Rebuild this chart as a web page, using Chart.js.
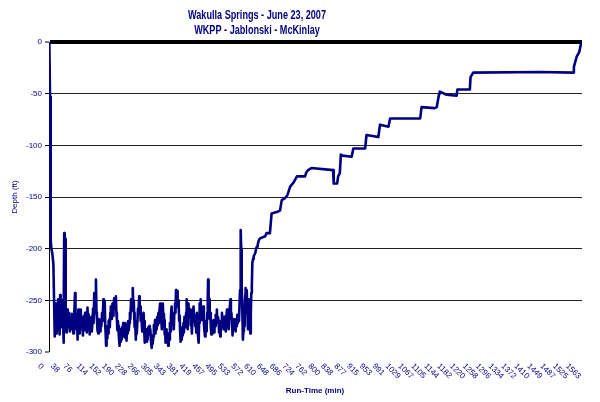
<!DOCTYPE html>
<html>
<head>
<meta charset="utf-8">
<script src="https://cdn.jsdelivr.net/npm/chart.js@4.4.1/dist/chart.umd.min.js"></script>
<style>
  html, body { margin: 0; padding: 0; background: #fff; }
</style>
</head>
<body>
<canvas id="depthChart" width="600" height="402"></canvas>
<script>
const titleLines = ['Wakulla Springs - June 23, 2007', 'WKPP - Jablonski - McKinlay'];
const xAxisTitle = 'Run-Time (min)';
const yAxisTitle = 'Depth (ft)';

// run time (min) and depth (ft)
const runTime = [
  1, 3, 5, 5, 7, 10, 13, 17,
  18.5, 20, 21.5, 23, 24.5, 26, 27, 28.5, 30, 31.5, 33, 34.5, 36, 37, 38.5, 40, 41.5, 43, 44, 45, 46.5, 48, 49, 50,
  51.5, 53, 54, 55.5, 57, 59, 60.5, 62, 64, 65.5, 67, 69, 70.5, 72, 74, 75.5, 77, 78.5, 80, 81.5, 83, 84, 85.5, 87,
  88.5, 90, 91, 92.5, 94, 95.5, 97, 99, 100.5, 102, 104, 105.5, 107, 109, 110.5, 112, 114, 115.5, 117, 119, 120.5,
  122, 124, 125.5, 127, 129, 130.5, 132, 134, 135.5, 137, 139, 140.5, 142, 143.5, 146, 147.5, 149, 151, 152.5, 154,
  155, 157, 159, 161, 162.5, 164, 165, 166.5, 168, 169, 170.5, 172, 173, 175, 176.5, 178, 180, 181.5, 183, 184.5,
  186, 188, 189.5, 191, 193, 194.5, 196, 198, 199.5, 201, 202.5, 204, 205, 207, 209, 210.5, 212, 213, 215, 216.5,
  218, 219.5, 221, 223, 224.5, 226, 228, 229.5, 231, 233, 234.5, 236, 238, 239.5, 241, 243, 244.5, 246, 248, 249.5,
  251, 252, 253.5, 255, 257, 258.5, 260, 262, 263.5, 265, 267, 268.5, 270, 271.5, 273, 274, 276, 278, 280, 281.5,
  283, 284, 285.5, 287, 288, 290, 291, 292, 294, 295.5, 297, 298.5, 300, 302, 304, 305.5, 307, 309, 310.5, 312,
  314, 315.5, 317, 319, 320.5, 322, 324, 325.5, 327, 329, 330.5, 332, 334, 335.5, 337, 338.5, 340, 341, 342.5, 344,
  345, 346.5, 348, 349.5, 351, 353, 354.5, 356, 358, 359.5, 361, 363, 364.5, 366, 368, 369.5, 371, 373, 374.5, 376,
  377.5, 379, 380, 381.5, 383, 384, 385.5, 387, 388, 389.5, 391, 393, 394.5, 396, 398, 399.5, 401, 403, 404.5, 406,
  407, 408, 409, 410, 411.5, 413, 414.5, 416, 418, 419.5, 421, 423, 424.5, 426, 428, 429.5, 431, 433, 434.5, 436,
  438, 439.5, 441, 443, 444.5, 446, 447.5, 449, 450.5, 452, 453.5, 455, 457, 458.5, 460, 462, 463.5, 465, 467, 468.5,
  470, 471, 472.5, 474, 475, 476.5, 478, 479, 480.5, 482, 483, 484.5, 486, 487, 488.5, 490, 492, 493.5, 495, 497,
  498.5, 500, 502, 503.5, 505, 507, 508.5, 510, 512, 513.5, 515, 517, 518.5, 520, 522, 523.5, 525, 527, 528.5, 530,
  532, 533.5, 535, 537, 538.5, 540, 542, 543.5, 545, 546, 547.5, 549, 551, 552.5, 554, 556, 557.5, 559, 561, 562.5,
  564, 565.5, 567, 568, 569, 570, 571, 572.5, 574, 575.5, 577, 578, 579.5, 581, 582, 583.5, 585, 586, 587.5, 589,
  590.5, 592, 593.5, 595, 596, 597.5, 599, 600.5, 602, 604, 606, 608, 611, 613, 616, 618, 621,
  625, 640, 644, 654, 659, 679, 684, 689, 699, 706, 714, 724, 734, 758, 762, 767, 777,
  841, 843, 853, 856, 861, 864, 869, 896, 901, 936, 940, 975, 980, 1005, 1010, 1099, 1103, 1142, 1148, 1155, 1157,
  1177, 1207, 1209, 1246, 1248, 1256, 1454, 1552, 1554, 1562, 1570, 1574, 1578
];
const depth = [
  0, -53, -121, -191, -200, -205, -215, -285,
  -262, -253, -278, -282, -258, -262, -249, -275, -269, -283, -245, -262, -276, -269, -250, -253, -270, -291, -260, -185, -188, -191, -240, -269,
  -281, -266, -259, -276, -262, -275, -268, -280, -269, -276, -263, -278, -270, -282, -265, -258, -243, -262, -265, -278, -270, -288, -272, -259,
  -276, -268, -282, -270, -259, -272, -266, -275, -284, -270, -265, -279, -262, -278, -268, -281, -257, -270, -263, -272, -283,
  -268, -278, -266, -280, -269, -258, -272, -243, -262, -250, -230, -262, -269, -279, -282, -268, -276, -269, -280, -270,
  -275, -262, -270, -249, -265, -258, -251, -275, -284, -294, -280, -287, -275, -282, -270, -269, -276, -262, -256, -268,
  -260, -253, -265, -257, -248, -258, -252, -246, -262, -269, -279, -270, -275, -286, -294, -282, -290, -278, -288, -276,
  -285, -272, -281, -275, -286, -272, -278, -289, -276, -282, -270, -279, -272, -262, -268, -249, -260, -252, -238, -255,
  -250, -262, -276, -270, -288, -276, -282, -269, -258, -262, -246, -262, -256, -270, -264, -269, -280, -268, -262, -276,
  -270, -291, -279, -286, -278, -290, -282, -288, -276, -283, -275, -282, -278, -290, -296, -284, -292, -285, -274, -280,
  -269, -282, -272, -278, -266, -274, -262, -272, -260, -253, -270, -266, -278, -262, -253, -268, -263, -269, -283, -278,
  -291, -280, -278, -290, -286, -294, -282, -288, -272, -280, -265, -256, -270, -262, -269, -278, -262, -253, -262, -240,
  -255, -248, -241, -256, -250, -256, -270, -265, -278, -290, -282, -288, -276, -284, -272, -281, -266, -269, -276, -262,
  -255, -249, -268, -278, -262, -253, -266, -258, -259, -274, -268, -282, -270, -262, -256, -270, -264, -275, -266, -281,
  -262, -276, -284, -291, -272, -253, -262, -249, -265, -269, -258, -266, -256, -272, -279, -285, -270, -280, -275, -262,
  -248, -230, -245, -250, -249, -268, -262, -275, -283, -272, -282, -270, -276, -269, -281, -270, -275, -264, -270, -259,
  -272, -266, -269, -281, -276, -285, -270, -276, -262, -275, -268, -278, -266, -273, -269, -280, -266, -259, -272, -266,
  -278, -266, -258, -249, -266, -262, -275, -284, -270, -278, -268, -276, -269, -280, -268, -275, -264, -272, -265, -270,
  -256, -240, -210, -182, -200, -225, -236, -262, -288, -280, -270, -275, -256, -245, -238, -262, -250, -240, -262, -278,
  -262, -249, -265, -276, -282, -262, -243, -236, -214, -210, -207, -206, -204, -200, -198, -196, -192,
  -190, -188, -185, -185, -166, -164, -163, -153, -151, -148, -140, -136, -130, -130, -126, -124, -122,
  -124, -137, -137, -130, -127, -109, -110, -111, -103, -103, -90, -92, -80, -82, -74, -74, -63, -64, -63, -50, -48,
  -51, -52, -46, -46, -34, -29.6, -29, -29.6, -24, -14.5, -9.6, -3.2, 0
];

const xTickLabels = [
  0, 38, 76, 114, 152, 190, 228, 266, 305, 343, 381, 419, 457, 495, 533, 572, 610, 648, 686, 724, 762,
  800, 838, 877, 915, 953, 991, 1029, 1067, 1105, 1144, 1182, 1220, 1258, 1296, 1334, 1372, 1410, 1449, 1487, 1525, 1563
];

const navy = '#000080';
const fontFamily = "'Liberation Sans', Arial, sans-serif";

const points = runTime.map((t, i) => ({ x: t, y: depth[i] }));

// titles and the slanted run-time labels, placed like the Excel original
const excelText = {
  id: 'excelText',
  afterDraw(chart) {
    const ctx = chart.ctx;
    const xs = chart.scales.x;
    const area = chart.chartArea;
    ctx.save();
    ctx.fillStyle = navy;
    ctx.textBaseline = 'middle';
    ctx.textAlign = 'center';

    // the original title is a squeezed bold face
    ctx.font = 'bold 12px ' + fontFamily;
    const squeeze = 138 / ctx.measureText(titleLines[0]).width;
    ctx.save();
    ctx.translate(257, 0);
    ctx.scale(squeeze, 1);
    ctx.fillText(titleLines[0], 0, 16);
    ctx.fillText(titleLines[1], 0, 31);
    ctx.restore();

    ctx.font = 'bold 8px ' + fontFamily;
    ctx.fillText(xAxisTitle, 315, 391);

    ctx.textAlign = 'left';
    ctx.font = '8px ' + fontFamily;
    xTickLabels.forEach(v => {
      const px = xs.getPixelForValue(v);
      ctx.save();
      ctx.translate(px - 10, area.bottom + 13);
      ctx.rotate(Math.PI / 4);
      ctx.fillText(String(v), 0, 0);
      ctx.restore();
    });

    ctx.save();
    ctx.textAlign = 'center';
    ctx.translate(15, 197);
    ctx.rotate(-Math.PI / 2);
    ctx.fillText(yAxisTitle, 0, 0);
    ctx.restore();

    ctx.restore();
  }
};

new Chart(document.getElementById('depthChart'), {
  type: 'line',
  data: {
    datasets: [{
      label: 'Depth',
      data: points,
      borderColor: navy,
      backgroundColor: navy,
      borderWidth: 2.6,
      borderJoinStyle: 'round',
      pointRadius: 0,
      tension: 0,
      fill: false
    }]
  },
  options: {
    responsive: false,
    animation: false,
    devicePixelRatio: 1,
    layout: { padding: { top: 42, right: 18, left: 0, bottom: 0 } },
    plugins: {
      legend: { display: false },
      title: { display: false },
      tooltip: { enabled: false }
    },
    scales: {
      x: {
        type: 'linear',
        min: 0,
        max: 1578,
        ticks: { display: false },
        grid: { display: false },
        border: { display: false },
        afterFit(s) { s.height = 50; }
      },
      y: {
        min: -300,
        max: 0,
        ticks: {
          stepSize: 50,
          color: navy,
          padding: 3,
          font: { family: fontFamily, size: 8 }
        },
        grid: {
          color: c => (c.tick && c.tick.value === 0) ? '#000' : '#222',
          lineWidth: c => (c.tick && c.tick.value === 0) ? 4 : (c.tick && c.tick.value === -300 ? 0 : 1),
          tickColor: '#000',
          tickWidth: 1,
          tickLength: 4
        },
        border: { color: '#000', width: 1 },
        afterFit(s) { s.width = 49; }
      }
    }
  },
  plugins: [excelText]
});
</script>
</body>
</html>
